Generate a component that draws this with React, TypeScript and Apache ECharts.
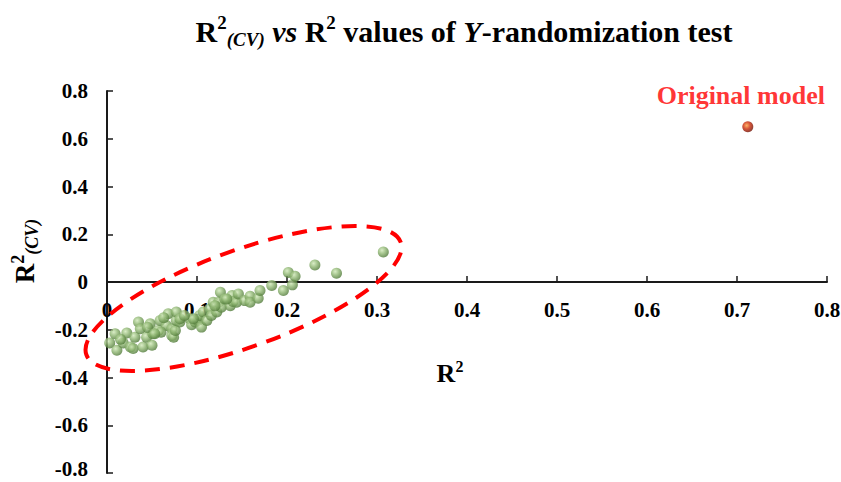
import React, { useEffect, useRef } from "react";
import * as echarts from "echarts";

const titleText = "{b|R}{sup|2}{sub|(CV)}{bi| vs }{b|R}{sup|2}{b| values of }{bi|Y}{b|-randomization test}";
const xAxisName = "{b|R}{sup|2}";
const yAxisName = "{b|R}{sup|2}{sub|(CV)}";
const originalLabel = "Original model";
const yMin = -0.8;
const yMax = 0.8;

// Y-randomization runs: [R², R²(CV)]
const randomR2 = [
  0.003, 0.009, 0.011, 0.018, 0.022, 0.026, 0.029, 0.031, 0.035, 0.037,
  0.040, 0.044, 0.048, 0.050, 0.051, 0.057, 0.059, 0.066, 0.068, 0.072,
  0.072, 0.074, 0.076, 0.077, 0.077, 0.081, 0.081, 0.015, 0.045, 0.060,
  0.063, 0.053, 0.092, 0.094, 0.098, 0.101, 0.103, 0.105, 0.107, 0.111,
  0.114, 0.116, 0.118, 0.122, 0.124, 0.126, 0.127, 0.131, 0.137, 0.139,
  0.140, 0.144, 0.146, 0.153, 0.159, 0.159, 0.168, 0.170, 0.183, 0.196,
  0.2015, 0.206, 0.209, 0.231, 0.255, 0.307, 0.096, 0.086, 0.133, 0.120,
];
const randomQ2 = [
  -0.255, -0.217, -0.286, -0.255, -0.214, -0.272, -0.279, -0.231, -0.168, -0.196,
  -0.272, -0.231, -0.175, -0.265, -0.217, -0.203, -0.161, -0.182, -0.133, -0.196,
  -0.224, -0.231, -0.203, -0.161, -0.126, -0.168, -0.154, -0.240, -0.190, -0.210,
  -0.150, -0.217, -0.154, -0.179, -0.168, -0.161, -0.140, -0.189, -0.126, -0.161,
  -0.113, -0.140, -0.085, -0.126, -0.085, -0.043, -0.106, -0.071, -0.099, -0.057,
  -0.082, -0.085, -0.050, -0.078, -0.060, -0.085, -0.068, -0.036, -0.015, -0.036,
  0.040, -0.012, 0.024, 0.071, 0.037, 0.126, -0.154, -0.140, -0.071, -0.100,
];
const originalR2 = [0.712];
const originalQ2 = [0.65];

// Ellipse annotation (centre in data units, radii in pixels)
const ellipseCenter = [0.1517, -0.069];

const FONT = "'Liberation Serif', 'Times New Roman', serif";

function richSet(main: number, small: number) {
  return {
    b: { fontFamily: FONT, fontWeight: "bold", fontSize: main, color: "#000", lineHeight: main * 1.2 },
    bi: { fontFamily: FONT, fontWeight: "bold", fontStyle: "italic", fontSize: main, color: "#000", lineHeight: main * 1.2 },
    sup: { fontFamily: FONT, fontWeight: "bold", fontSize: small, color: "#000", verticalAlign: "top", lineHeight: small * 1.3 },
    sub: { fontFamily: FONT, fontWeight: "bold", fontStyle: "italic", fontSize: small, color: "#000", verticalAlign: "bottom", lineHeight: small },
  };
}

export default function App() {
  const ref = useRef<HTMLDivElement>(null);
  useEffect(() => {
    if (!ref.current) return;
    const chart = echarts.init(ref.current, null, { renderer: "svg" });
    const greenGrad = new echarts.graphic.RadialGradient(0.38, 0.35, 0.7, [
      { offset: 0, color: "#d0e8b8" },
      { offset: 0.45, color: "#90b773" },
      { offset: 1, color: "#4a7433" },
    ]);
    const redGrad = new echarts.graphic.RadialGradient(0.4, 0.38, 0.7, [
      { offset: 0, color: "#ffa040" },
      { offset: 0.45, color: "#cc2a08" },
      { offset: 1, color: "#5a0800" },
    ]);
    const scatterData = randomR2.map((x, i) => [x, randomQ2[i]]);
    const origData = originalR2.map((x, i) => [x, originalQ2[i]]);
    const labelFont = { fontFamily: FONT, fontWeight: "bold", fontSize: 21, color: "#000" };
    chart.setOption({
      animation: false,
      backgroundColor: "#fff",
      title: {
        text: titleText,
        left: 459,
        textAlign: "center",
        top: 8,
        textStyle: { rich: richSet(30, 19) },
      },
      grid: { left: 107, right: 14, top: 91, bottom: 9, containLabel: false, outerBoundsMode: "none" },
      xAxis: {
        type: "value",
        min: 0,
        max: 0.8,
        interval: 0.1,
        offset: -191,
        name: xAxisName,
        nameLocation: "middle",
        nameGap: 76,
        nameTextStyle: { rich: richSet(26, 16), padding: [0, 34, 0, 0] },
        axisLine: { onZero: false, lineStyle: { color: "#1a1a1a", width: 2 } },
        axisTick: { show: true, inside: true, length: 6, lineStyle: { color: "#1a1a1a", width: 1.5 } },
        axisLabel: { margin: 17, ...labelFont },
        splitLine: { show: false },
      },
      yAxis: {
        type: "value",
        min: yMin,
        max: yMax,
        interval: 0.2,
        name: yAxisName,
        nameLocation: "middle",
        nameRotate: 90,
        nameGap: 66,
        nameTextStyle: { rich: richSet(27, 18), padding: [0, 0, 0, 62] },
        axisLine: { show: true, onZero: false, lineStyle: { color: "#1a1a1a", width: 2 } },
        axisTick: { show: true, inside: true, length: 6, lineStyle: { color: "#1a1a1a", width: 1.5 } },
        axisLabel: {
          margin: 19,
          ...labelFont,
          lineHeight: 16,
          formatter: (v: number) =>
            Math.abs(v - yMin) < 1e-9 ? "{lo|" + String(v) + "}" : String(Math.round(v * 10) / 10),
          rich: { lo: { ...labelFont, lineHeight: 16, padding: [0, 0, 8, 0] } },
        },
        splitLine: { show: false },
      },
      series: [
        {
          type: "scatter",
          name: "Y-randomization",
          data: scatterData,
          symbol: "circle",
          symbolSize: 11,
          itemStyle: { color: greenGrad },
          z: 3,
        },
        {
          type: "scatter",
          name: "Original model",
          data: origData,
          symbol: "circle",
          symbolSize: 11,
          itemStyle: { color: redGrad },
          label: {
            show: true,
            position: "top",
            distance: 13,
            offset: [-7, 0],
            formatter: originalLabel,
            fontFamily: FONT,
            fontWeight: "bold",
            fontSize: 26,
            color: "#ff0000",
          },
          z: 3,
        },
      ],
    });
    const c = chart.convertToPixel({ gridIndex: 0 }, ellipseCenter) as number[];
    chart.setOption({
      graphic: [
        {
          type: "ellipse",
          x: c[0],
          y: c[1],
          rotation: (19.7 * Math.PI) / 180,
          shape: { cx: 0, cy: 0, rx: 167, ry: 48.5 },
          style: { fill: "none", stroke: "#ff0000", lineWidth: 4, lineDash: [15, 10] },
          z: 5,
        },
      ],
    });
    return () => chart.dispose();
  }, []);
  return <div ref={ref} style={{ position: "fixed", left: 0, top: 0, width: 841, height: 482 }} />;
}
